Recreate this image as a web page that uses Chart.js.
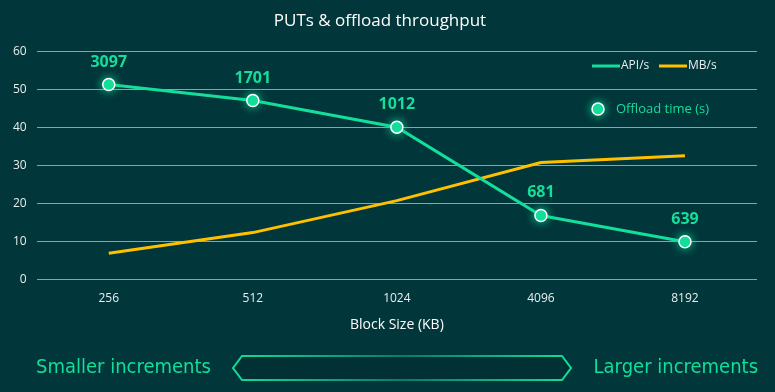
<!DOCTYPE html>
<html>
<head>
<meta charset="utf-8">
<script src="https://cdn.jsdelivr.net/npm/chart.js@4.4.1/dist/chart.umd.min.js"></script>
<style>
  html, body { margin: 0; padding: 0; background: #01363a; }
  #wrap { width: 775px; height: 392px; }
</style>
</head>
<body>
<div id="wrap"><canvas id="chart" width="775" height="392"></canvas></div>
<script>
const blockSizes = ["256", "512", "1024", "4096", "8192"];
const apiPerSec = [51.3, 47.1, 40.1, 16.9, 10.0];
const mbPerSec = [7.0, 12.4, 20.8, 30.8, 32.6];
const offloadTime = [3097, 1701, 1012, 681, 639];

const bg = "#01363a";
const green = "#13de9a";
const gold = "#ffc000";
const gridColor = "#8fa3a3";
const textColor = "#e8eeee";

let canvas = document.querySelector("#chart");

const backgroundPlugin = {
  id: "bg",
  beforeDraw(chart) {
    const ctx = chart.ctx;
    ctx.save();
    ctx.fillStyle = bg;
    ctx.fillRect(0, 0, chart.width, chart.height);
    ctx.restore();
  },
};

// glow on the offload markers
const glowPlugin = {
  id: "glow",
  beforeDatasetDraw(chart, args) {
    if (args.index !== 0) return;
    chart.ctx.save();
    chart.ctx.shadowColor = "rgba(19,222,154,0.9)";
    chart.ctx.shadowBlur = 10;
  },
  afterDatasetDraw(chart, args) {
    if (args.index !== 0) return;
    chart.ctx.restore();
  },
};

const labelsPlugin = {
  id: "pointLabels",
  afterDatasetsDraw(chart) {
    const ctx = chart.ctx;
    const meta = chart.getDatasetMeta(0);
    ctx.save();
    ctx.fillStyle = green;
    ctx.font = "bold 16px 'Open Sans', sans-serif";
    ctx.textAlign = "center";
    ctx.textBaseline = "alphabetic";
    meta.data.forEach((pt, i) => {
      ctx.fillText(String(offloadTime[i]), pt.x, pt.y - 18);
    });
    ctx.restore();
  },
};

const legendPlugin = {
  id: "customLegend",
  afterDraw(chart) {
    const ctx = chart.ctx;
    const right = chart.chartArea.right;
    ctx.save();
    ctx.font = "12px 'Open Sans', sans-serif";
    ctx.textBaseline = "middle";
    ctx.textAlign = "left";
    ctx.lineWidth = 3;
    let y = 66;
    let x = right - 165;
    [["API/s", green], ["MB/s", gold]].forEach(([name, color]) => {
      ctx.strokeStyle = color;
      ctx.beginPath();
      ctx.moveTo(x, y);
      ctx.lineTo(x + 28, y);
      ctx.stroke();
      ctx.fillStyle = textColor;
      ctx.fillText(name, x + 29, y);
      x += 67;
    });
    // offload marker
    const px = right - 159, py = 109;
    ctx.save();
    ctx.shadowColor = "rgba(19,222,154,0.9)";
    ctx.shadowBlur = 10;
    ctx.fillStyle = green;
    ctx.strokeStyle = "#ffffff";
    ctx.lineWidth = 1.5;
    ctx.beginPath();
    ctx.arc(px, py, 6, 0, Math.PI * 2);
    ctx.fill();
    ctx.stroke();
    ctx.restore();
    ctx.font = "13px 'Open Sans', sans-serif";
    ctx.fillStyle = green;
    ctx.fillText("Offload time (s)", px + 18, py);
    ctx.restore();
  },
};

const arrowPlugin = {
  id: "incrementArrow",
  afterDraw(chart) {
    const ctx = chart.ctx;
    const cy = 368;
    ctx.save();
    ctx.font = "20px 'Liberation Sans Narrow', 'DejaVu Sans Condensed', sans-serif";
    ctx.fillStyle = green;
    ctx.textBaseline = "middle";
    ctx.textAlign = "left";
    ctx.fillText("Smaller increments", 36, cy);
    ctx.textAlign = "right";
    ctx.fillText("Larger increments", 758, cy);

    const x0 = 233, x1 = 571, h = 12, tip = 9;
    const grad = ctx.createLinearGradient(x0, 0, x1, 0);
    grad.addColorStop(0, green);
    grad.addColorStop(0.5, "#0c7a68");
    grad.addColorStop(1, green);
    ctx.strokeStyle = grad;
    ctx.lineWidth = 2;
    ctx.beginPath();
    ctx.moveTo(x0, cy);
    ctx.lineTo(x0 + tip, cy - h);
    ctx.lineTo(x1 - tip, cy - h);
    ctx.lineTo(x1, cy);
    ctx.lineTo(x1 - tip, cy + h);
    ctx.lineTo(x0 + tip, cy + h);
    ctx.closePath();
    ctx.fillStyle = "#013135";
    ctx.fill();
    ctx.stroke();
    ctx.restore();
  },
};

let chart1 = new Chart(canvas, {
  type: "line",
  data: {
    labels: blockSizes,
    datasets: [
      {
        label: "Offload time (s)",
        data: apiPerSec,
        showLine: false,
        pointRadius: 6,
        pointHoverRadius: 6,
        pointBackgroundColor: green,
        pointBorderColor: "#ffffff",
        pointBorderWidth: 1.5,
      },
      {
        label: "API/s",
        data: apiPerSec,
        borderColor: green,
        borderWidth: 3,
        pointRadius: 0,
        tension: 0,
      },
      {
        label: "MB/s",
        data: mbPerSec,
        borderColor: gold,
        borderWidth: 3,
        pointRadius: 0,
        tension: 0,
      },
    ],
  },
  options: {
    responsive: false,
    animation: false,
    layout: { padding: { left: 3, right: 18, top: 0, bottom: 59 } },
    plugins: {
      legend: { display: false },
      tooltip: { enabled: false },
      title: {
        display: true,
        text: "PUTs & offload throughput",
        color: "#ffffff",
        font: { family: "'Open Sans', sans-serif", size: 17, weight: "normal" },
        padding: { top: 11, bottom: 20 },
      },
    },
    scales: {
      x: {
        offset: true,
        grid: { display: false, offset: true },
        border: { display: false },
        ticks: { color: textColor, font: { family: "'Open Sans', sans-serif", size: 12 }, padding: 4 },
        title: {
          display: true,
          text: "Block Size (KB)",
          color: "#ffffff",
          font: { family: "'Open Sans', sans-serif", size: 14 },
          padding: { top: 6, bottom: 0 },
        },
      },
      y: {
        min: 0,
        max: 60,
        ticks: { stepSize: 10, color: textColor, font: { family: "'Open Sans', sans-serif", size: 12 }, padding: 10 },
        grid: { color: gridColor, lineWidth: 1, drawTicks: false },
        border: { display: false },
      },
    },
  },
  plugins: [backgroundPlugin, glowPlugin, labelsPlugin, legendPlugin, arrowPlugin],
});
</script>
</body>
</html>
